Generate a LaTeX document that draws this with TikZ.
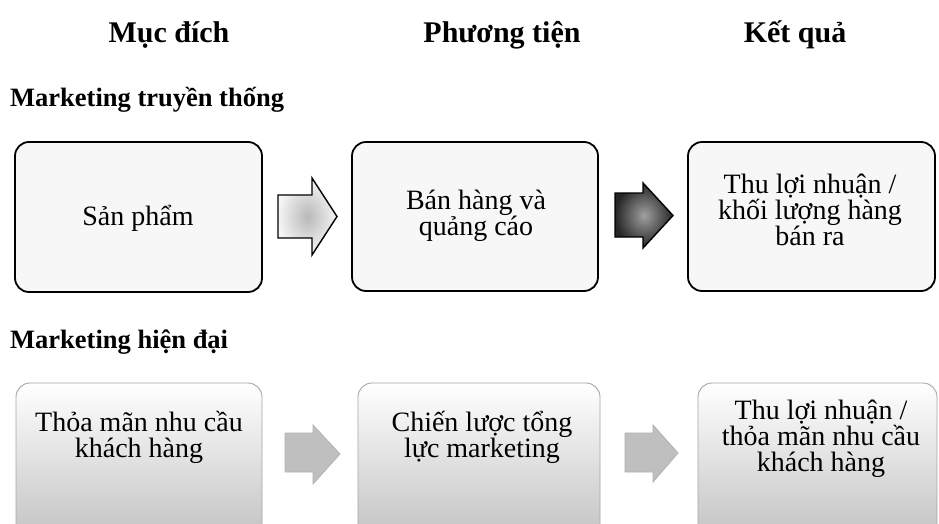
\documentclass[tikz,border=0pt]{standalone}
\usepackage{fontspec}
\setmainfont{Liberation Serif}
\begin{document}
\begin{tikzpicture}[x=1pt,y=-1pt,
  topbox/.style={draw=black, line width=1.8pt, rounded corners=14pt, fill=gray!6, inner sep=0pt},
  botbox/.style={draw=gray!70, line width=0.9pt, rounded corners=14pt, top color=white, bottom color=gray!55, inner sep=0pt},
  boxtext/.style={font=\fontsize{28}{26}\selectfont, align=center, inner sep=0pt},
  headtext/.style={font=\fontsize{30}{34}\selectfont\bfseries, anchor=base},
  subtext/.style={font=\fontsize{26.5}{30}\selectfont\bfseries, anchor=base west, inner sep=0pt},
  arrowlight/.style={draw=black, line width=1.4pt, inner color=gray!55, outer color=gray!8, line join=miter},
  arrowdark/.style={draw=black, line width=1.4pt, inner color=gray!75, outer color=black!85, line join=miter},
  arrowgrey/.style={draw=gray!60, line width=0.8pt, fill=gray!50, line join=miter},
]
\useasboundingbox (0,0) rectangle (939,524);
\clip (0,0) rectangle (939,524);
\fill[white] (0,0) rectangle (939,524);

% headers
\node[headtext] (h1) at (169,43) {Mục đích};
\node[headtext] (h2) at (502,43) {Phương tiện};
\node[headtext] (h3) at (795,43) {Kết quả};

% section titles
\node[subtext] (s1) at (10,107) {Marketing truyền thống};
\node[subtext] (s2) at (10,348) {Marketing hiện đại};

% top row boxes
\node[topbox, minimum width=247pt, minimum height=150pt] (b1) at (138.5,217) {};
\node[topbox, minimum width=246pt, minimum height=149pt] (b2) at (475,216.5) {};
\node[topbox, minimum width=247pt, minimum height=149pt] (b3) at (811.5,216.5) {};
\node[boxtext] (t1) at (138,218) {Sản phẩm};
\node[boxtext] (t2) at (476,216) {Bán hàng và\\quảng cáo};
\node[boxtext] (t3) at (810,210) {Thu lợi nhuận /\\khối lượng hàng\\bán ra};

% bottom row boxes
\node[botbox, minimum width=246pt, minimum height=180pt] (b4) at (139,473) {};
\node[botbox, minimum width=242pt, minimum height=180pt] (b5) at (479,473) {};
\node[botbox, minimum width=239pt, minimum height=180pt] (b6) at (817.5,473) {};
\node[boxtext] (t4) at (139,437) {Thỏa mãn nhu cầu\\khách hàng};
\node[boxtext] (t5) at (482,437) {Chiến lược tổng\\lực marketing};
\node[boxtext] (t6) at (821,439) {Thu lợi nhuận /\\thỏa mãn nhu cầu\\khách hàng};

% block arrows
\draw[arrowlight] (278,195) -- (312,195) -- (312,178) -- (337,216.5) -- (312,255) -- (312,238) -- (278,238) -- cycle;
\draw[arrowdark] (615,193) -- (643,193) -- (643,183) -- (673,215.5) -- (643,248) -- (643,237) -- (615,237) -- cycle;
\draw[arrowgrey] (285,433) -- (313,433) -- (313,425) -- (340,454) -- (313,484) -- (313,472) -- (285,472) -- cycle;
\draw[arrowgrey] (625,433) -- (653,433) -- (653,425) -- (678,453) -- (653,482) -- (653,472) -- (625,472) -- cycle;
\end{tikzpicture}
\end{document}
